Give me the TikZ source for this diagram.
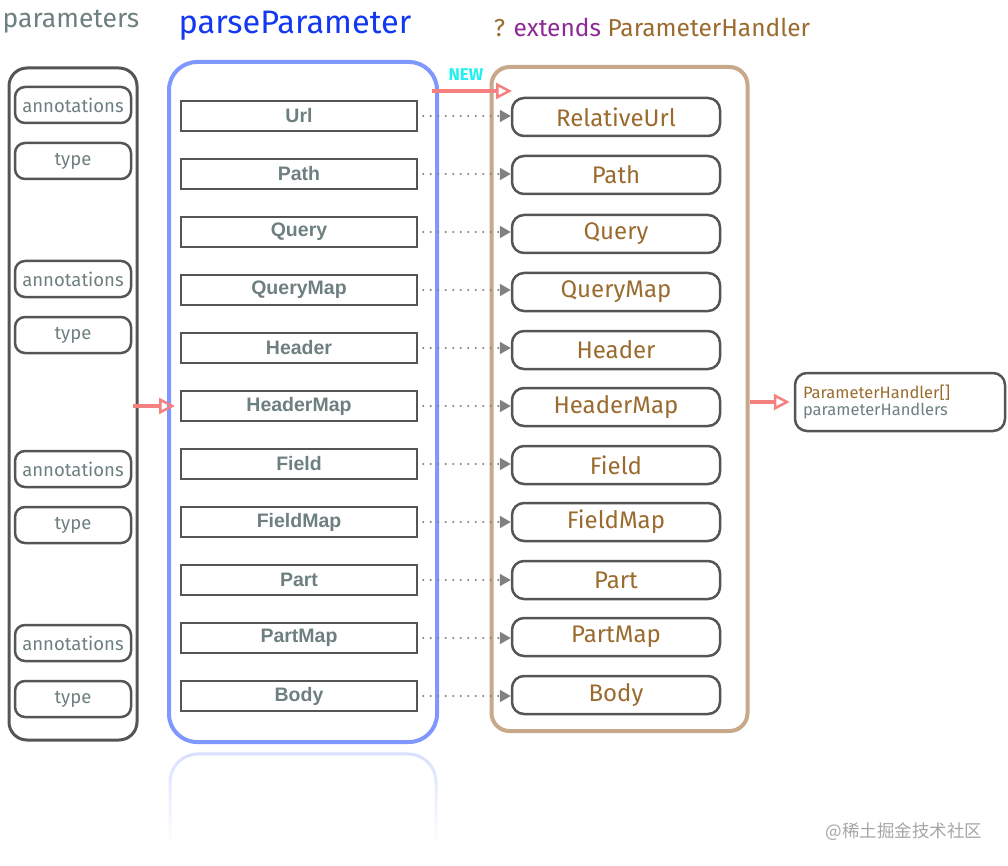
\documentclass[tikz,border=0pt]{standalone}
\usepackage{fontspec}
\setmainfont{Fira Sans}
\newfontfamily\labfont{Liberation Sans}
\newfontfamily\cjk{Noto Sans CJK SC}
\usetikzlibrary{arrows.meta,fadings}
\definecolor{dgray}{HTML}{555555}
\definecolor{tgray}{HTML}{6E7F7F}
\definecolor{pblue}{HTML}{8097FF}
\definecolor{tblue}{HTML}{1238F0}
\definecolor{tanc}{HTML}{C8A88A}
\definecolor{brownt}{HTML}{9A6B2E}
\definecolor{purp}{HTML}{8E2A95}
\definecolor{salmon}{HTML}{F58080}
\definecolor{cyann}{HTML}{22F0F0}
\tikzset{
  fs/.style={font=\fontsize{#1}{#1}\selectfont},
  pbox/.style={draw=dgray, line width=2.5pt, rounded corners=10pt, minimum width=116pt, minimum height=36pt, text=tgray, font=\fontsize{18.5}{18.5}\selectfont},
  rectbox/.style={draw=dgray, line width=2.5pt, minimum width=236pt, minimum height=30pt, text=tgray, font=\labfont\bfseries\fontsize{19.5}{19.5}\selectfont},
  hbox/.style={draw=dgray, line width=2.5pt, rounded corners=12pt, minimum width=208pt, minimum height=38pt, text=brownt, font=\fontsize{24}{24}\selectfont},
  dotarrow/.style={draw=gray, line width=2.2pt, line cap=round, dash pattern=on 0pt off 7.5pt, -{Triangle[length=11pt,width=12pt,fill=gray]}},
  redarrow/.style={draw=salmon, line width=3.5pt, -{Triangle[open,length=16pt,width=16pt,line width=2.5pt]}},
}
\begin{document}
\begin{tikzpicture}[x=1pt,y=-1pt]
\useasboundingbox (0,0) rectangle (1008,866);
% titles
\node[fs=26.5, text=tgray] (t1) at (71,22) {parameters};
\node[fs=32.5, text=tblue] (t2) at (295,26) {parseParameter};
\node[fs=24.5] (t3) at (652,27) {\textcolor{brownt}{?} \textcolor{purp}{extends} \textcolor{brownt}{ParameterHandler}};
% containers
\node[draw=dgray, line width=3pt, rounded corners=18pt, minimum width=128pt, minimum height=672pt] (params) at (73,404) {};
\node[draw=pblue, line width=4pt, rounded corners=28pt, minimum width=268pt, minimum height=680pt] (pc) at (303,402) {};
\draw[pblue!30, line width=3pt, rounded corners=28pt, path fading=south] (170,845) -- (170,754) -- (436,754) -- (436,845);
\node[draw=tanc, line width=4pt, rounded corners=18pt, minimum width=256pt, minimum height=664pt] (hc) at (619.5,399) {};
% parameter boxes
\node[pbox] (a1) at (73,105) {annotations};
\node[pbox] (y1) at (73,161) {type};
\node[pbox] (a2) at (73,279) {annotations};
\node[pbox] (y2) at (73,335) {type};
\node[pbox] (a3) at (73,469) {annotations};
\node[pbox] (y3) at (73,525) {type};
\node[pbox] (a4) at (73,643) {annotations};
\node[pbox] (y4) at (73,699) {type};
% parse rectangles
\foreach \i/\y/\t in {1/116/Url,2/174/Path,3/232/Query,4/290/QueryMap,5/348/Header,6/406/HeaderMap,7/464/Field,8/522/FieldMap,9/580/Part,10/638/PartMap,11/696/Body}{
  \node[rectbox] (r\i) at (299,\y) {\t};
}
% handler boxes
\foreach \i/\y/\t in {1/117/RelativeUrl,2/175/Path,3/234/Query,4/292/QueryMap,5/350/Header,6/407/HeaderMap,7/465/Field,8/522/FieldMap,9/580/Part,10/637/PartMap,11/695/Body}{
  \node[hbox] (h\i) at (616,\y) {\t};
}
\foreach \i in {1,...,11}{
  \draw[dotarrow] ([xshift=5pt]r\i.east) -- (h\i.west |- r\i.east);
}
% output
\node[draw=dgray, line width=2.5pt, rounded corners=12pt, minimum width=210pt, minimum height=58pt, text width=194pt, align=left, fs=16.5] (out) at (900,402) {\textcolor{brownt}{ParameterHandler[]}\\[1pt]\textcolor{tgray}{parameterHandlers}};
% red arrows
\coordinate (newA) at (432,91);
\coordinate (newB) at (512,91);
\draw[redarrow] (newA) -- (newB);
\node[text=cyann, font=\bfseries\fontsize{17}{17}\selectfont] (newl) at (466,75) {NEW};
\draw[redarrow] ([xshift=-6pt]params.east |- r6.west) -- ([xshift=8pt]pc.west |- r6.west);
\draw[redarrow] (hc.east |- out.west) -- ([xshift=-4pt]out.west);
% watermark
\node[text=gray!70, font=\cjk\fontsize{17.5}{17.5}\selectfont] (wm) at (904,832) {@稀土掘金技术社区};
\end{tikzpicture}
\end{document}
